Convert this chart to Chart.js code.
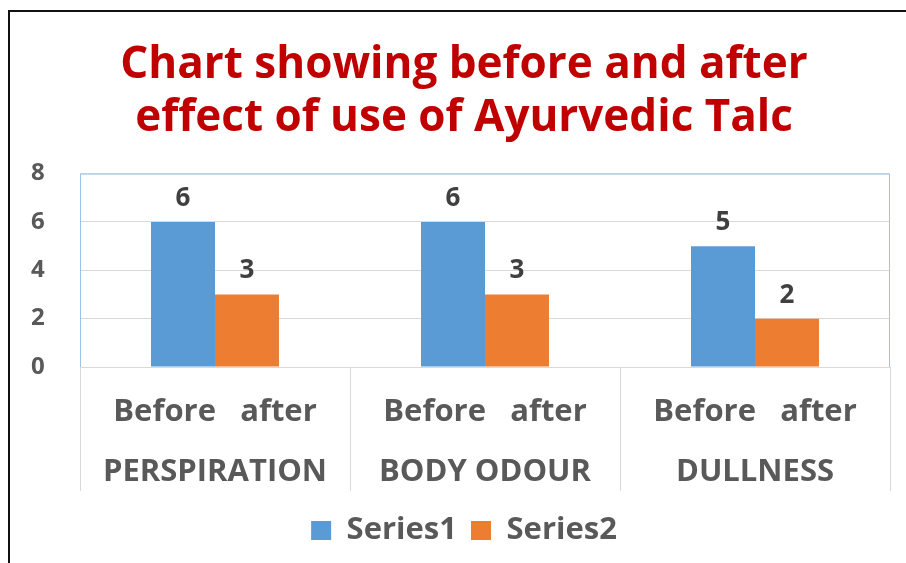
<!DOCTYPE html>
<html lang="en">
<head>
  <meta charset="UTF-8" />
  <title>Ayurvedic Talc - before and after</title>
  <style>
    body {
      margin: 0;
      width: 906px;
      height: 563px;
      overflow: hidden;
      background: #ffffff;
      position: relative;
    }

    .frame {
      position: absolute;
      left: 8px;
      top: 10px;
      width: 1000px;
      height: 700px;
      border-left: 2px solid #111;
      border-top: 2px solid #111;
    }

    #chartBox {
      position: absolute;
      left: 0;
      top: 0;
      width: 906px;
      height: 563px;
    }
  </style>
</head>
<body>

  <div class="frame"></div>
  <div id="chartBox">
    <canvas id="talcChart" width="906" height="563"></canvas>
  </div>

  <script src="https://cdn.jsdelivr.net/npm/chart.js"></script>

  <script>
    // data
    const categories = ["PERSPIRATION", "BODY ODOUR", "DULLNESS"];
    const subLabels = "Before   after";
    const series1 = [6, 6, 5];
    const series2 = [3, 3, 2];
    const yTicks = [0, 2, 4, 6, 8];

    const FONT = "'Open Sans', 'DejaVu Sans', sans-serif";

    // value labels above each bar
    const valueLabels = {
      id: "valueLabels",
      afterDatasetsDraw(chart) {
        const ctx = chart.ctx;
        ctx.save();
        ctx.font = "bold 26px " + FONT;
        ctx.fillStyle = "#404040";
        ctx.textAlign = "center";
        ctx.textBaseline = "alphabetic";
        chart.data.datasets.forEach((ds, i) => {
          chart.getDatasetMeta(i).data.forEach((bar, j) => {
            ctx.fillText(ds.data[j], bar.x, bar.y - 16);
          });
        });
        ctx.restore();
      }
    };

    // light blue edge on left, top and right of the plot area
    const plotEdge = {
      id: "plotEdge",
      beforeDatasetsDraw(chart) {
        const a = chart.chartArea;
        const ctx = chart.ctx;
        ctx.save();
        ctx.strokeStyle = "#9dc3e6";
        ctx.lineWidth = 1;
        ctx.beginPath();
        ctx.moveTo(a.left + 0.5, a.bottom);
        ctx.lineTo(a.left + 0.5, a.top + 0.5);
        ctx.lineTo(a.right - 0.5, a.top + 0.5);
        ctx.lineTo(a.right - 0.5, a.bottom);
        ctx.stroke();
        ctx.restore();
      }
    };

    new Chart(document.getElementById("talcChart"), {
      type: "bar",
      data: {
        labels: categories.map(c => [subLabels, c]),
        datasets: [
          {
            label: "Series1",
            data: series1,
            backgroundColor: "#5b9bd5",
            categoryPercentage: 0.474,
            barPercentage: 1
          },
          {
            label: "Series2",
            data: series2,
            backgroundColor: "#ed7d31",
            categoryPercentage: 0.474,
            barPercentage: 1
          }
        ]
      },
      options: {
        responsive: false,
        animation: false,
        layout: {
          padding: { left: 38, right: 16, top: 0, bottom: 7 }
        },
        plugins: {
          title: {
            display: true,
            text: ["Chart showing before and after", "effect of use of Ayurvedic Talc"],
            color: "#c00000",
            font: { family: FONT, size: 44, weight: "bold", lineHeight: 1.2 },
            padding: { top: 39, bottom: 29 }
          },
          legend: {
            position: "bottom",
            labels: {
              color: "#595959",
              font: { family: FONT, size: 31, weight: "bold" },
              boxWidth: 20,
              boxHeight: 19,
              padding: 14
            }
          },
          tooltip: { enabled: false }
        },
        scales: {
          x: {
            grid: {
              offset: true,
              drawOnChartArea: false,
              color: "#d9d9d9",
              tickLength: 124
            },
            border: { color: "#d9d9d9" },
            ticks: {
              color: "#595959",
              font: { family: FONT, size: 31, weight: "bold", lineHeight: 1.935 },
              padding: -109,
              maxRotation: 0,
              autoSkip: false
            },
            afterFit(scale) { scale.height = 134; }
          },
          y: {
            min: 0,
            max: 8,
            afterBuildTicks(scale) { scale.ticks = yTicks.map(v => ({ value: v })); },
            grid: { color: "#d9d9d9", drawTicks: false },
            border: { display: false },
            ticks: {
              color: "#595959",
              font: { family: FONT, size: 24, weight: "bold" },
              mirror: true,
              crossAlign: "center",
              padding: -49
            },
            afterFit(scale) { scale.width = 42; }
          }
        }
      },
      plugins: [valueLabels, plotEdge]
    });
  </script>

</body>
</html>
